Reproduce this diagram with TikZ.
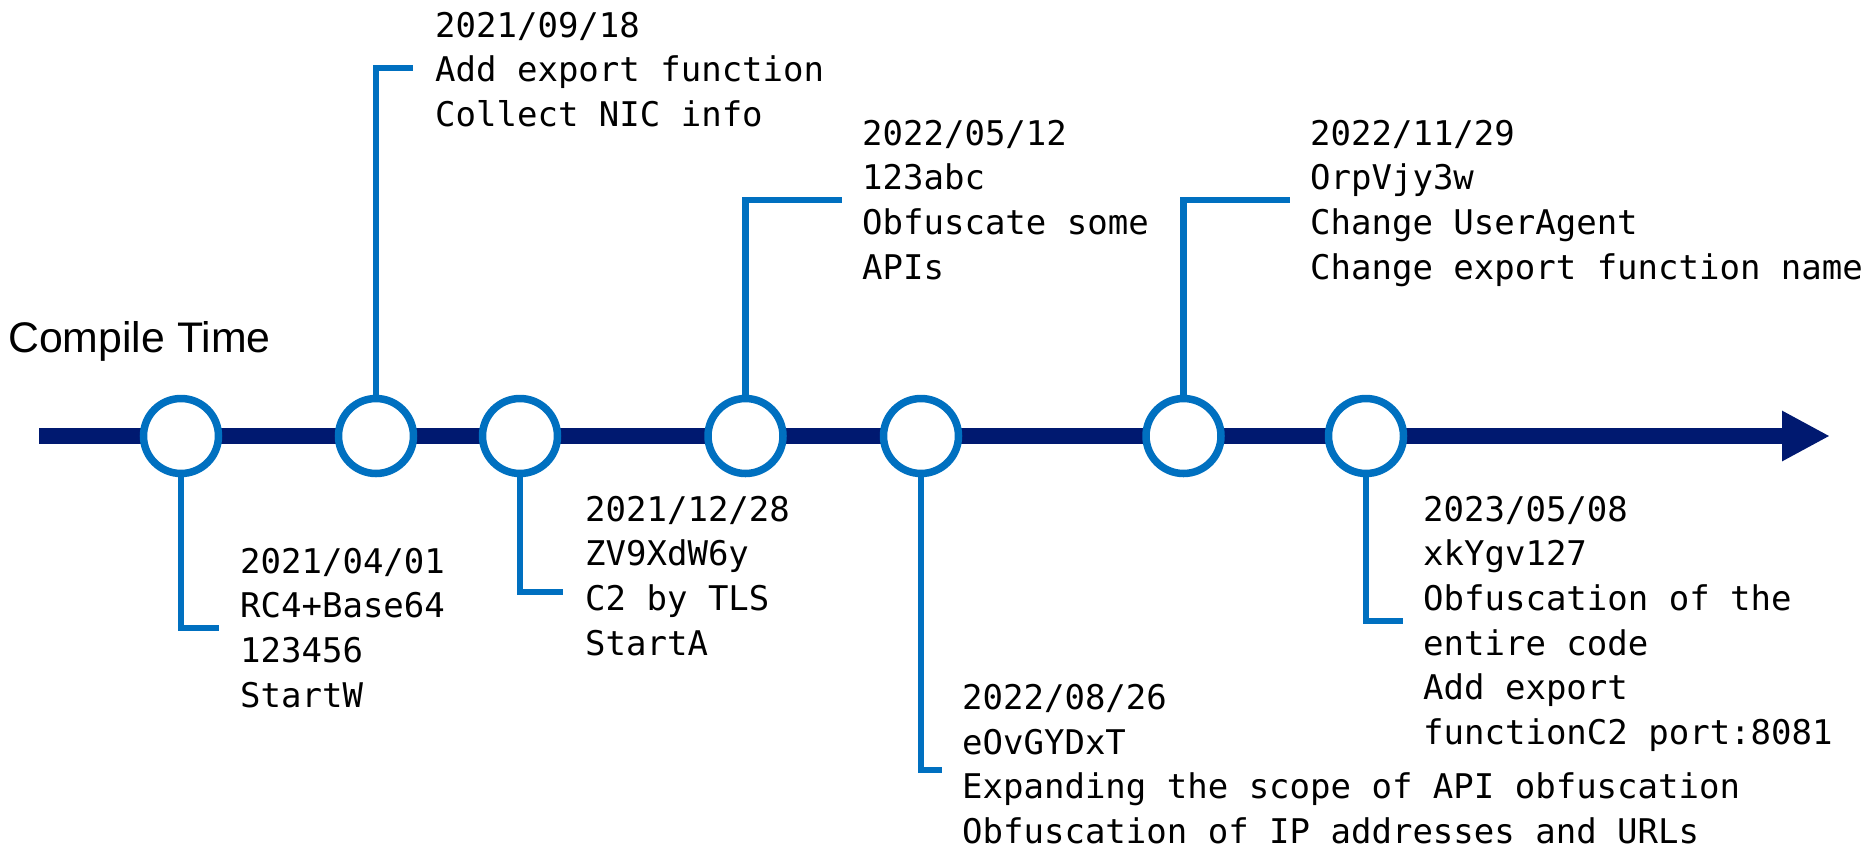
\documentclass[tikz,border=0pt]{standalone}
\usepackage{fontspec}
\setmainfont{Liberation Sans}
\setmonofont{DejaVu Sans Mono}
\usetikzlibrary{arrows.meta}
\definecolor{axisnavy}{HTML}{001970}
\definecolor{markblue}{HTML}{0070C0}

\begin{document}
\begin{tikzpicture}[x=1pt,y=-1pt,
  axisline/.style={draw=axisnavy,line width=16pt,-{Triangle[length=48pt,width=47pt]}},
  event/.style={circle,draw=markblue,line width=7.5pt,fill=white,minimum size=75pt,inner sep=0pt},
  lead/.style={draw=markblue,line width=6.5pt},
  % notes are placed by the baseline of their last line
  note/.style={anchor=base west,align=left,inner sep=0pt,font=\fontsize{34}{44.7}\selectfont\ttfamily},
  heading/.style={anchor=base west,inner sep=0pt,font=\fontsize{42.8}{50}\selectfont},
]
\useasboundingbox (0,0) rectangle (1871,852);

% time axis
\coordinate (ax0) at (39,436);
\coordinate (ax1) at (1830,436);
\draw[axisline] (ax0) -- (ax1);

\node[heading] (title) at (8,352) {Compile Time};

% event markers
\node[event] (c1) at (181,436) {};
\node[event] (c2) at (376,436) {};
\node[event] (c3) at (520,436) {};
\node[event] (c4) at (745.5,436) {};
\node[event] (c5) at (921,436) {};
\node[event] (c6) at (1183.5,436) {};
\node[event] (c7) at (1366,436) {};

% leader ends
\coordinate (e1) at (219,628);
\coordinate (e2) at (413,68);
\coordinate (e3) at (563,592);
\coordinate (e4) at (842,200);
\coordinate (e5) at (942,770);
\coordinate (e6) at (1290,200);
\coordinate (e7) at (1403,621);

\draw[lead] (c1.south) |- (e1);
\draw[lead] (c2.north) |- (e2);
\draw[lead] (c3.south) |- (e3);
\draw[lead] (c4.north) |- (e4);
\draw[lead] (c5.south) |- (e5);
\draw[lead] (c6.north) |- (e6);
\draw[lead] (c7.south) |- (e7);

% release notes
\node[note] (n1) at (240,707.1) {2021/04/01\\RC4+Base64\\123456\\StartW};
\node[note] (n2) at (435,126.4) {2021/09/18\\Add export function\\Collect NIC info};
\node[note] (n3) at (585,655.1) {2021/12/28\\ZV9XdW6y\\C2 by TLS\\StartA};
\node[note] (n4) at (862,279.1) {2022/05/12\\123abc\\Obfuscate some\\APIs};
\node[note] (n5) at (962,843.5) {2022/08/26\\eOvGYDxT\\Expanding the scope of API obfuscation\\Obfuscation of IP addresses and URLs};
\node[note] (n6) at (1310,279.1) {2022/11/29\\OrpVjy3w\\Change UserAgent\\Change export function name};
\node[note] (n7) at (1423,744.5) {2023/05/08\\xkYgv127\\Obfuscation of the\\entire code\\Add export\\functionC2 port:8081};
\end{tikzpicture}
\end{document}
